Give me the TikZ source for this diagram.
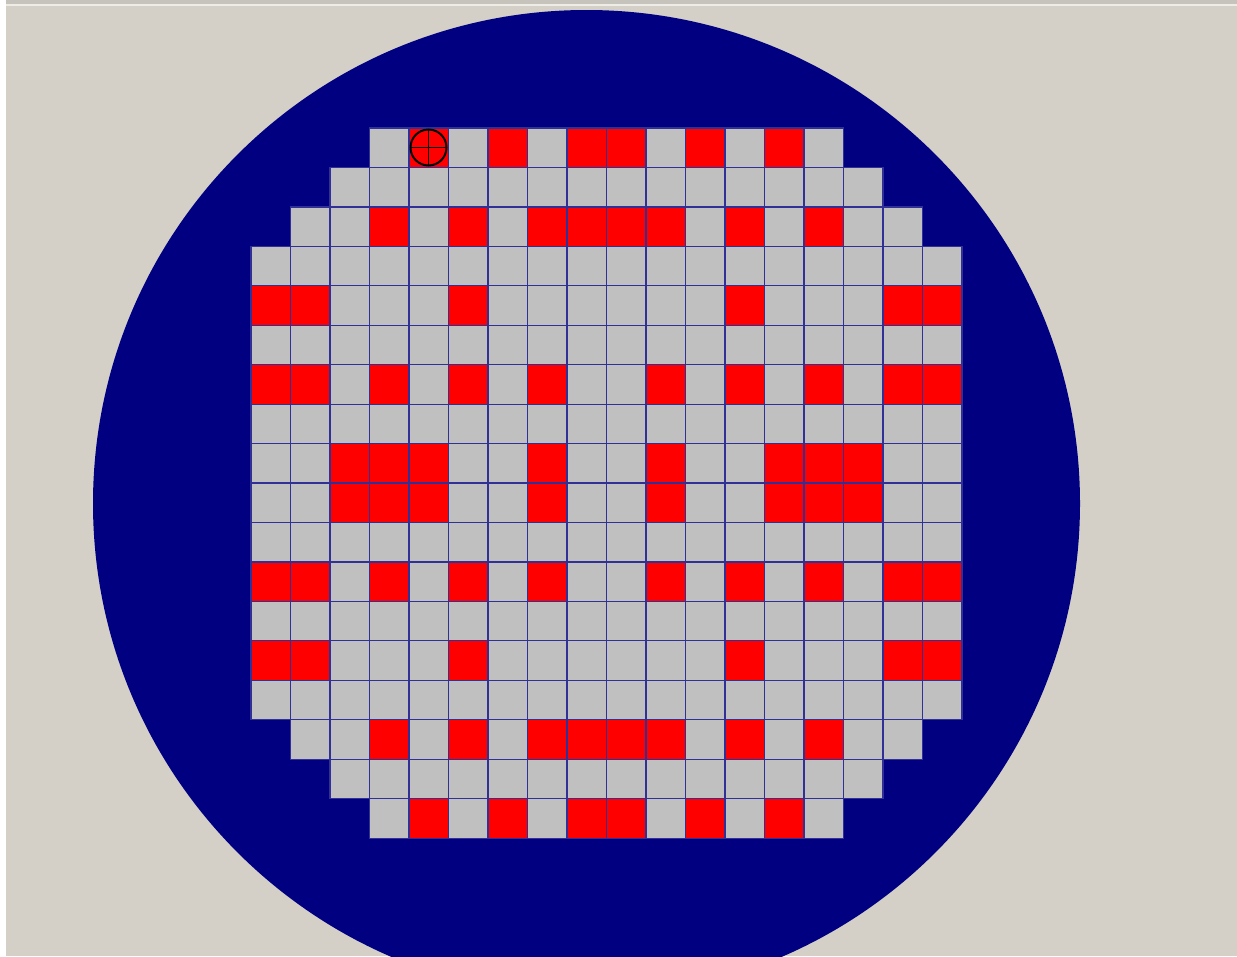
\documentclass[tikz,border=0pt]{standalone}
\definecolor{bgbeige}{HTML}{D4D0C8}
\definecolor{topgray}{HTML}{C6C3BC}
\definecolor{toplight}{HTML}{EEECE6}
\definecolor{wafer}{HTML}{000080}
\definecolor{cellgray}{HTML}{C0C0C0}
\definecolor{cellred}{HTML}{FF0000}
\definecolor{gridblue}{RGB}{48,48,150}
\tikzset{
  cellg/.style={fill=cellgray, draw=gridblue, line width=1.2pt},
  cellr/.style={fill=cellred, draw=gridblue, line width=1.2pt},
  marker/.style={draw=black, line width=2pt},
}
\begin{document}
\begin{tikzpicture}[x=1pt,y=-1pt]
\useasboundingbox (0,0) rectangle (1237,956);
\clip (0,0) rectangle (1237,956);
% background
\fill[bgbeige] (0,0) rectangle (1237,956);
\fill[topgray] (0,0) rectangle (1237,3.5);
\fill[toplight] (0,3.5) rectangle (1237,5.5);
\fill[white] (0,0) rectangle (6,956);
% wafer
\fill[wafer] (586.5,503.5) circle (493.5);
% gray dies (row/first col/last col)
\foreach \r/\a/\b in {0/3/14,1/2/15,2/1/16,3/0/17,4/0/17,5/0/17,6/0/17,7/0/17,8/0/17,
  9/0/17,10/0/17,11/0/17,12/0/17,13/0/17,14/0/17,15/1/16,16/2/15,17/3/14}{
  \foreach \c in {\a,...,\b}{
    \filldraw[cellg] ({\c*39.5+251},{\r*39.45+128}) rectangle ++(39.5,39.45);
  }
}
% red dies
\foreach \r/\reds in {0/{4,6,8,9,11,13},2/{3,5,7,8,9,10,12,14},4/{0,1,5,12,16,17},
  6/{0,1,3,5,7,10,12,14,16,17},8/{2,3,4,7,10,13,14,15},9/{2,3,4,7,10,13,14,15},
  11/{0,1,3,5,7,10,12,14,16,17},13/{0,1,5,12,16,17},15/{3,5,7,8,9,10,12,14},
  17/{4,6,8,9,11,13}}{
  \foreach \c in \reds{
    \filldraw[cellr] ({\c*39.5+251},{\r*39.45+128}) rectangle ++(39.5,39.45);
  }
}
% crosshair marker
\coordinate (m) at (428.5,147.5);
\draw[marker] (m) circle (18);
\draw[black, line width=1.4pt] ([yshift=-18pt]m) -- ([yshift=18pt]m);
\draw[black, line width=1.4pt] ([xshift=-18pt]m) -- ([xshift=18pt]m);
\end{tikzpicture}
\end{document}
